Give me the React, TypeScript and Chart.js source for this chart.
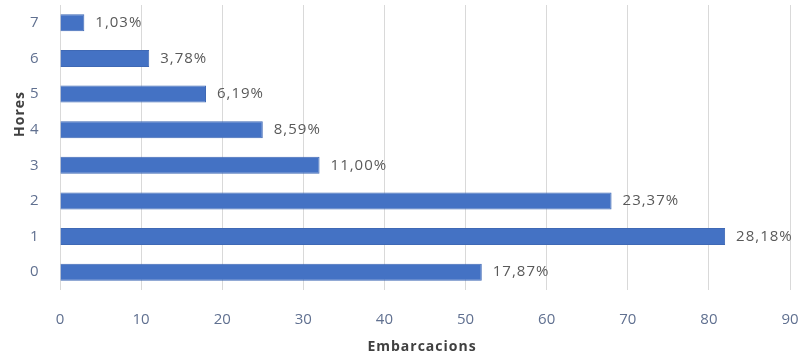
import React, { useEffect, useRef } from "react";
import { Chart, registerables } from "chart.js";

Chart.register(...registerables);

const categories = ["0", "1", "2", "3", "4", "5", "6", "7"];
const embarcacions = [52, 82, 68, 32, 25, 18, 11, 3];
const percentLabels = ["17,87%", "28,18%", "23,37%", "11,00%", "8,59%", "6,19%", "3,78%", "1,03%"];
const xTitle = "Embarcacions";
const yTitle = "Hores";

const FONT = "'Open Sans', 'DejaVu Sans', sans-serif";

const labelPlugin = {
  id: "labels",
  afterDatasetsDraw(chart: any) {
    const ctx = chart.ctx;
    const meta = chart.getDatasetMeta(0);
    ctx.save();
    ctx.font = `15px ${FONT}`;
    (ctx as any).letterSpacing = "1px";
    ctx.fillStyle = "#595959";
    ctx.textAlign = "left";
    ctx.textBaseline = "middle";
    meta.data.forEach((bar: any, i: number) => {
      ctx.fillText(percentLabels[i], bar.x + 11, bar.y);
    });
    ctx.restore();
  },
  afterDraw(chart: any) {
    const ctx = chart.ctx;
    const area = chart.chartArea;
    ctx.save();
    ctx.font = `bold 14px ${FONT}`;
    (ctx as any).letterSpacing = "1px";
    ctx.fillStyle = "#404040";
    ctx.textAlign = "center";
    ctx.textBaseline = "middle";
    ctx.fillText(xTitle, (area.left + area.right) / 2 - 3, 347);
    ctx.translate(20, 114);
    ctx.rotate(-Math.PI / 2);
    ctx.fillText(yTitle, 0, 0);
    ctx.restore();
  },
};

export default function App() {
  const ref = useRef<HTMLCanvasElement>(null);
  useEffect(() => {
    const chart = new Chart(ref.current!, {
      type: "bar",
      data: {
        labels: categories,
        datasets: [
          {
            data: embarcacions,
            backgroundColor: "#4472c4",
            borderColor: "#3f69b5",
            borderWidth: 1,
            barPercentage: 0.5,
            categoryPercentage: 0.96,
          },
        ],
      },
      options: {
        indexAxis: "y",
        responsive: false,
        animation: false,
        layout: { padding: { top: 5, right: 10, left: 30, bottom: 0 } },
        plugins: { legend: { display: false }, tooltip: { enabled: false } },
        scales: {
          x: {
            min: 0,
            max: 90,
            ticks: { stepSize: 10, padding: 21, color: "#607090", font: { family: FONT, size: 15 } },
            grid: { color: "#d9d9d9", drawTicks: false },
            border: { display: false },
            afterFit: (s: any) => {
              s.height = 68;
              s.paddingLeft = 0;
              s.paddingRight = 0;
            },
          },
          y: {
            reverse: true,
            ticks: {
              padding: 0,
              crossAlign: "far",
              color: "#607090",
              font: { family: FONT, size: 15, lineHeight: 0.6 },
            },
            grid: { display: false, drawTicks: false },
            border: { display: false },
            afterFit: (s: any) => {
              s.width = 30;
            },
          },
        },
      },
      plugins: [labelPlugin],
    });
    return () => chart.destroy();
  }, []);
  return (
    <div style={{ position: "fixed", left: 0, top: 0, width: 800, height: 358, background: "#fff" }}>
      <canvas ref={ref} width={800} height={358} />
    </div>
  );
}
